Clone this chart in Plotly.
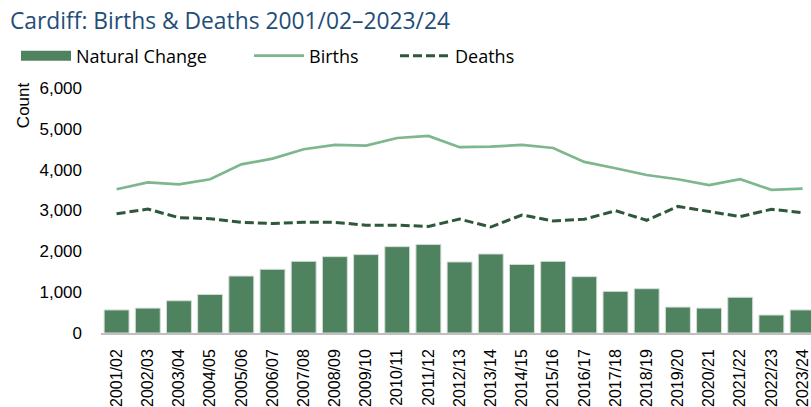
import plotly.graph_objects as go

# Financial years
years = [
    "2001/02", "2002/03", "2003/04", "2004/05", "2005/06", "2006/07",
    "2007/08", "2008/09", "2009/10", "2010/11", "2011/12", "2012/13",
    "2013/14", "2014/15", "2015/16", "2016/17", "2017/18", "2018/19",
    "2019/20", "2020/21", "2021/22", "2022/23", "2023/24",
]

births = [
    3520, 3690, 3640, 3765, 4130, 4270, 4500, 4605, 4590, 4775, 4825, 4550,
    4565, 4605, 4530, 4190, 4035, 3870, 3765, 3620, 3765, 3505, 3535,
]

deaths = [
    2920, 3035, 2825, 2800, 2710, 2680, 2710, 2710, 2640, 2640, 2610, 2790,
    2595, 2890, 2745, 2785, 2995, 2760, 3100, 2980, 2850, 3030, 2945,
]

natural_change = [
    565, 610, 790, 945, 1395, 1560, 1755, 1870, 1920, 2115, 2170, 1740,
    1935, 1680, 1755, 1380, 1020, 1085, 635, 610, 875, 440, 565,
]

y_ticks = [0, 1000, 2000, 3000, 4000, 5000, 6000]

BAR = "#4f8360"
BIRTHS = "#7db78d"
DEATHS = "#2e573b"
TITLE = "#1f4e79"

W, H = 811, 407
LEGEND_FONT = dict(family="Open Sans, sans-serif", size=18, color="#000000")


def legend_at(px):
    return dict(
        orientation="h", xref="container", yref="container",
        x=px / W, xanchor="left", y=1 - 56 / H, yanchor="middle",
        itemwidth=50, font=LEGEND_FONT, bgcolor="rgba(0,0,0,0)",
    )


fig = go.Figure()

fig.add_trace(go.Bar(
    x=years, y=natural_change, name="Natural Change",
    marker=dict(color=BAR, line=dict(color="#d6ded8", width=1)),
    showlegend=False,
))
# Legend swatch for the bars (wide flat bar)
fig.add_trace(go.Scatter(
    x=[None], y=[None], mode="lines", name="Natural Change",
    line=dict(color=BAR, width=11), legend="legend",
))
fig.add_trace(go.Scatter(
    x=years, y=births, mode="lines", name="Births",
    line=dict(color=BIRTHS, width=2.7), legend="legend2",
))
fig.add_trace(go.Scatter(
    x=years, y=deaths, mode="lines", name="Deaths",
    line=dict(color=DEATHS, width=3, dash="9px,4px"), legend="legend3",
))

fig.update_layout(
    width=W, height=H,
    margin=dict(l=101, r=0, t=88, b=74, autoexpand=False),
    plot_bgcolor="white", paper_bgcolor="white",
    bargap=0.2,
    font=dict(family="Liberation Sans, Arial, sans-serif", size=17, color="#000000"),
    title=dict(
        text="Cardiff: Births & Deaths 2001/02\u20132023/24",
        x=10 / W, xanchor="left", xref="container",
        y=1 - 21 / H, yanchor="middle", yref="container",
        font=dict(family="Open Sans, sans-serif", size=22.8, color=TITLE),
    ),
    legend=legend_at(16),
    legend2=legend_at(249),
    legend3=legend_at(395),
    xaxis=dict(
        type="category", range=[-0.5, 22.27], automargin=False,
        tickangle=-90, showgrid=False, ticks="",
        showline=True, linecolor="#bfbfbf", linewidth=1.5,
        ticklabelstandoff=8,
        tickfont=dict(size=16),
    ),
    yaxis=dict(
        range=[0, 6000], tickvals=y_ticks, tickformat=",", automargin=False,
        showgrid=False, zeroline=False, showline=False, ticks="",
        ticklabelstandoff=18,
        tickfont=dict(size=17),
    ),
    annotations=[dict(
        text="Count", textangle=-90, showarrow=False,
        xref="paper", yref="paper", x=0, xshift=-78, xanchor="center",
        y=0.93, yanchor="middle", font=dict(size=17),
    )],
)

fig.write_html("out.html")
